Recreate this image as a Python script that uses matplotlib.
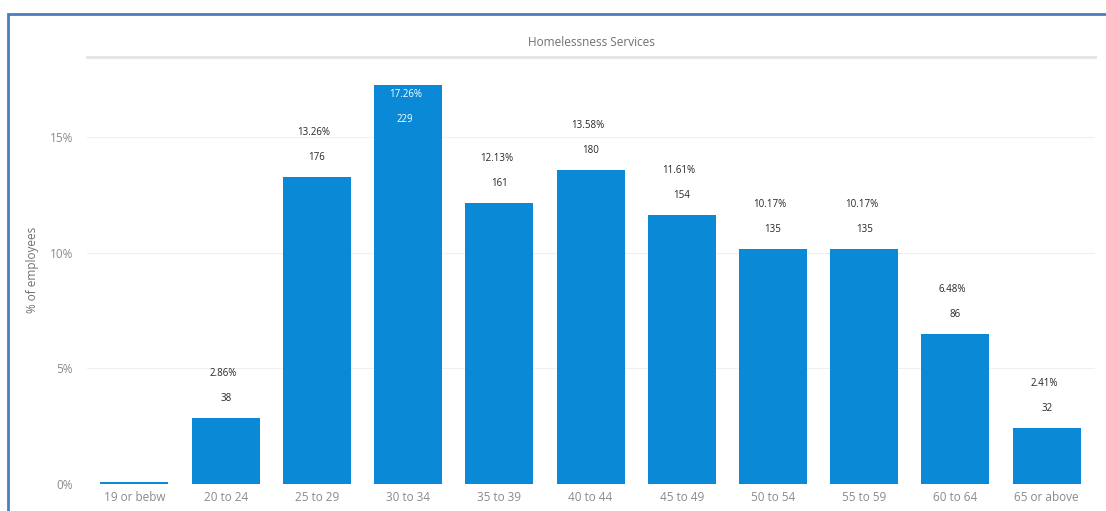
import matplotlib
matplotlib.use("Agg")
import matplotlib.pyplot as plt
from matplotlib.patches import Rectangle
from matplotlib.lines import Line2D

# Age bands and share of employees
age_bands = ["19 or below", "20 to 24", "25 to 29", "30 to 34", "35 to 39", "40 to 44",
             "45 to 49", "50 to 54", "55 to 59", "60 to 64", "65 or above"]
tick_labels = ["19 or bebw", "20 to 24", "25 to 29", "30 to 34", "35 to 39", "40 to 44",
               "45 to 49", "50 to 54", "55 to 59", "60 to 64", "65 or above"]
pct_employees = [0.08, 2.86, 13.26, 17.26, 12.13, 13.58, 11.61, 10.17, 10.17, 6.48, 2.41]
headcount = [None, 38, 176, 229, 161, 180, 154, 135, 135, 86, 32]
y_ticks = [0, 5, 10, 15]
y_tick_labels = ["0%", "5%", "10%", "15%"]

plt.rcParams["font.family"] = ["Open Sans", "DejaVu Sans"]

W, H = 1106, 511
fig = plt.figure(figsize=(W / 100, H / 100), dpi=100)
fig.patch.set_facecolor("white")

ax = fig.add_axes([87 / W, (H - 484) / H, (1095 - 87) / W, (484 - 56) / H])
x = list(range(len(age_bands)))
bar_color = "#0A8AD6"
ax.bar(x, pct_employees, width=0.745, color=bar_color, zorder=2)

ax.set_xlim(-0.52, 10.53)
ax.set_ylim(0, 18.5)
ax.set_yticks(y_ticks)
ax.set_yticklabels(y_tick_labels)
ax.set_xticks(x)
ax.set_xticklabels(tick_labels)
ax.tick_params(axis="both", length=0, labelsize=8.5, colors="#8a8a8a")
ax.tick_params(axis="y", pad=10)
ax.tick_params(axis="x", pad=5)
ax.grid(axis="y", color="#f0f0f0", linewidth=0.9, zorder=0)
for s in ax.spines.values():
    s.set_visible(False)

ax.set_ylabel("% of employees", fontsize=8.5, color="#707070", labelpad=8)

# Value labels: percentage and headcount stacked above each bar
px_per_unit = (484 - 56) / 18.5
for xi, p, n in zip(x, pct_employees, headcount):
    if n is None:
        continue
    top_px = p * px_per_unit
    if top_px + 50 > (484 - 56):
        # no room above: place inside the bar in white
        ax.annotate(f"{p:.2f}%", (xi, p), xytext=(-2, -7), textcoords="offset points",
                    ha="center", va="center", fontsize=7, color="white", zorder=3)
        ax.annotate(f"{n}", (xi, p), xytext=(-2, -25), textcoords="offset points",
                    ha="center", va="center", fontsize=7, color="white", zorder=3)
    else:
        ax.annotate(f"{p:.2f}%", (xi, p), xytext=(-2, 32), textcoords="offset points",
                    ha="center", va="center", fontsize=7, color="#262626", zorder=3)
        ax.annotate(f"{n}", (xi, p), xytext=(0, 14), textcoords="offset points",
                    ha="center", va="center", fontsize=7, color="#262626", zorder=3)

# Title with separator rule beneath
fig.text((87 + 1095) / 2 / W, (H - 42) / H, "Homelessness Services", ha="center", va="center",
         fontsize=8.5, color="#707070")
fig.add_artist(Line2D([87 / W, 1095 / W], [(H - 57) / H, (H - 57) / H], color="#e6e6e6",
                      linewidth=2.2, transform=fig.transFigure))

# Outer frame
fig.add_artist(Rectangle((8 / W, -0.05), 1.2, (H - 14) / H + 0.05, transform=fig.transFigure,
                         fill=False, edgecolor="#4A7CC4", linewidth=2))

fig.savefig("out.png", dpi=100)
